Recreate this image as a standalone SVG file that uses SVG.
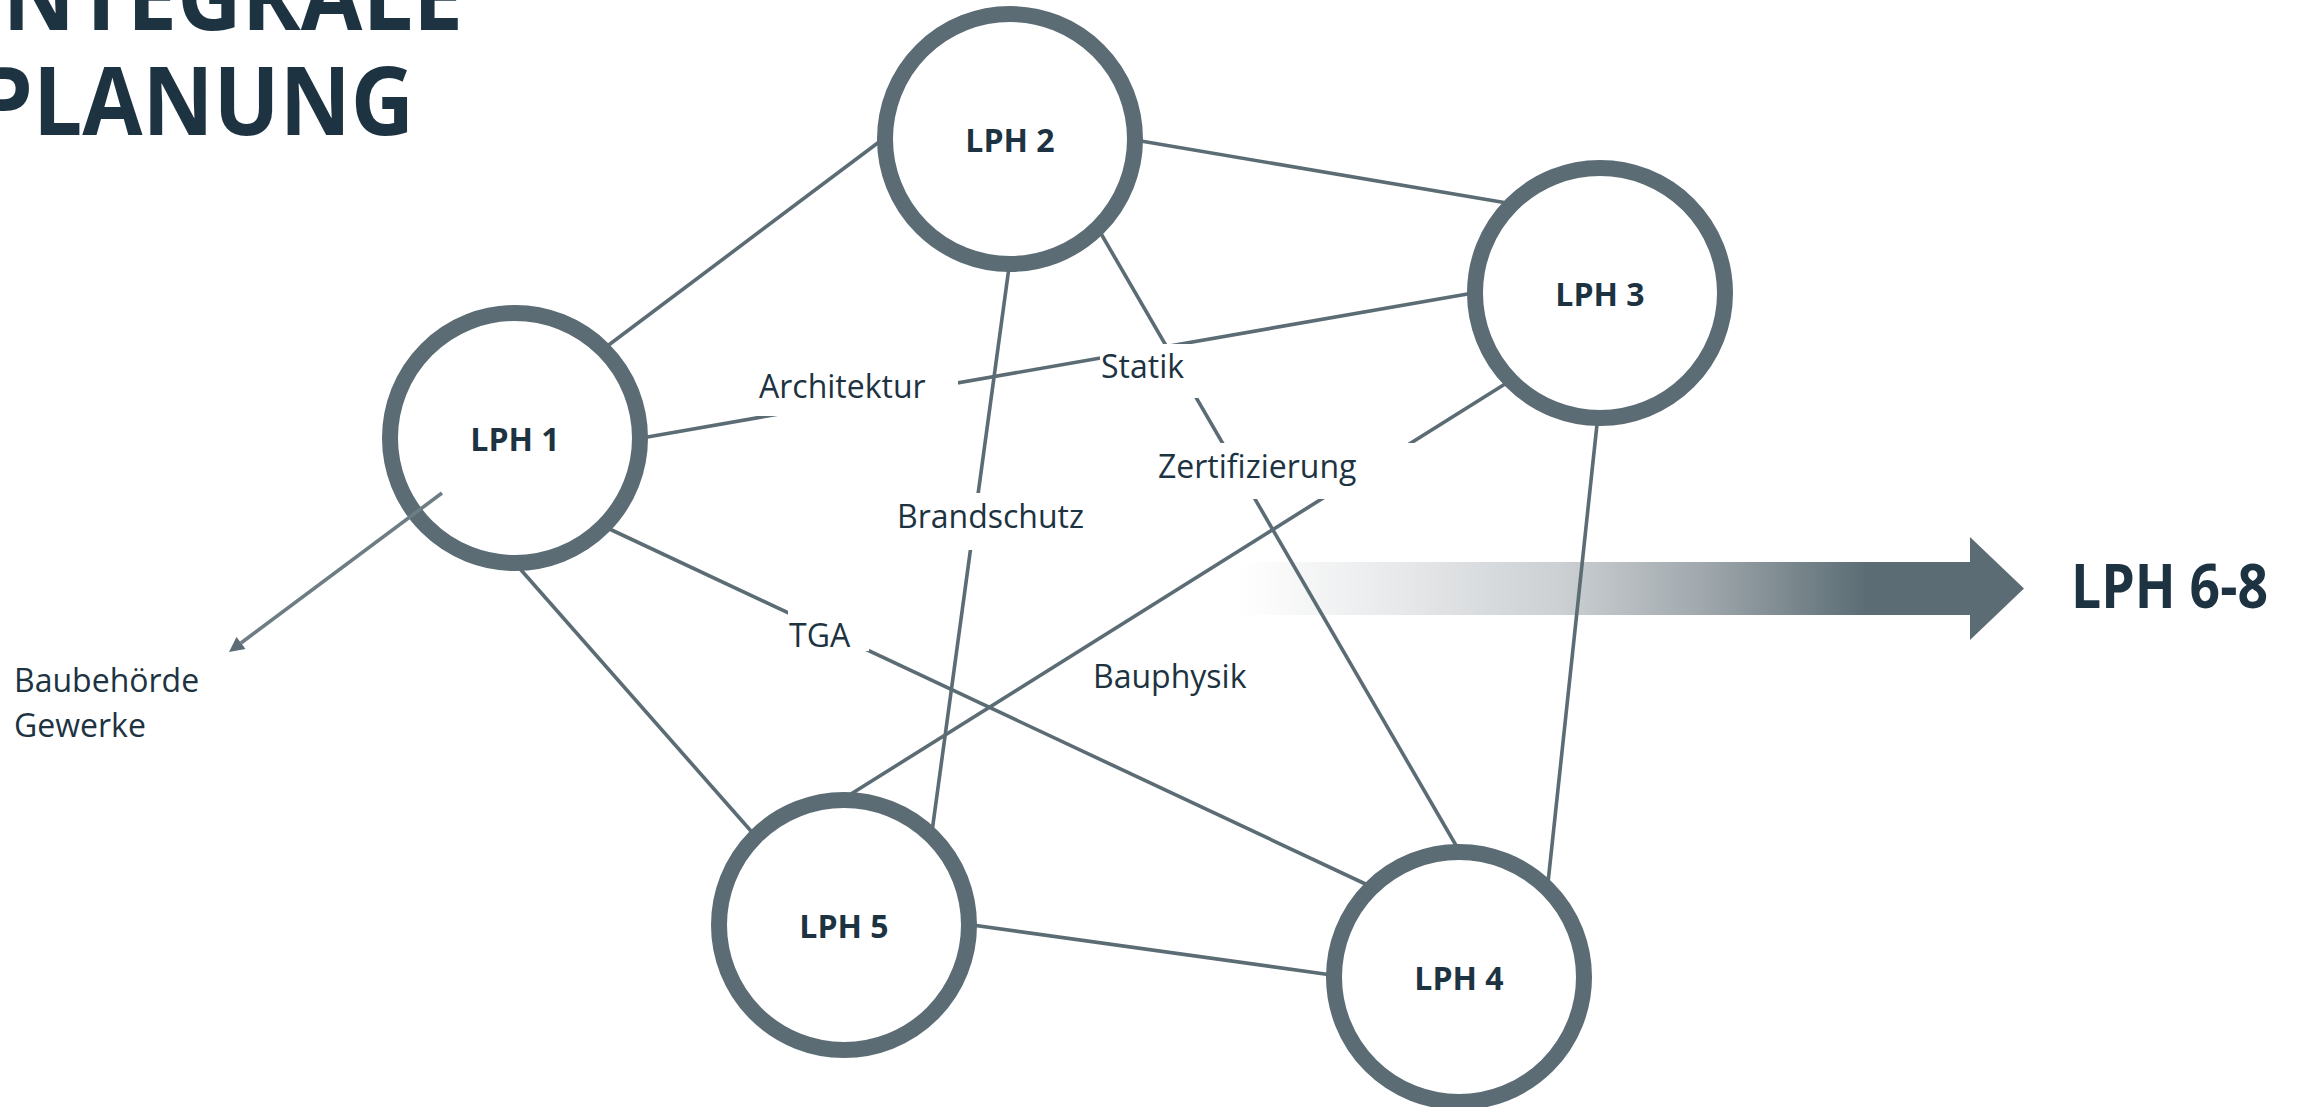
<svg xmlns="http://www.w3.org/2000/svg" width="2300" height="1107" viewBox="0 0 2300 1107">
  <style>
    .conn { stroke: #5b6c74; stroke-width: 3.6; fill: none; }
    .ring { fill: #ffffff; stroke: #5b6c74; stroke-width: 16; }
    .nlabel { font-family: "Open Sans", "Liberation Sans", sans-serif; font-weight: 700; font-size: 32px; fill: #1d3342; text-anchor: middle; }
    .elabel { font-family: "Open Sans", "Liberation Sans", sans-serif; font-size: 32px; fill: #1d3342; }
    .lbg { fill: #ffffff; }
    .title { font-family: "Open Sans", "Liberation Sans", sans-serif; font-weight: 700; font-size: 95px; fill: #1d3342; }
  </style>
  <defs>
    <linearGradient id="fadeArrow" gradientUnits="userSpaceOnUse" x1="1239" y1="0" x2="2024" y2="0">
      <stop offset="0" stop-color="#ffffff"/>
      <stop offset="0.15" stop-color="#eeeff0"/>
      <stop offset="0.41" stop-color="#ccd0d3"/>
      <stop offset="0.59" stop-color="#a0a8ad"/>
      <stop offset="0.71" stop-color="#78868c"/>
      <stop offset="0.8" stop-color="#5b6c74"/>
      <stop offset="1" stop-color="#5b6c74"/>
    </linearGradient>
    <marker id="arrowHead" markerUnits="userSpaceOnUse" markerWidth="17" markerHeight="15" viewBox="0 0 10 10" refX="0" refY="5" orient="auto">
      <path d="M0,0 L10,5 L0,10 z" fill="#5b6c74"/>
    </marker>
  </defs>

  <rect x="0" y="0" width="2300" height="1107" fill="#ffffff"/>

  <g id="title">
    <text class="title" x="-27" y="30" textLength="490" lengthAdjust="spacingAndGlyphs">INTEGRALE</text>
    <text class="title" x="-22" y="135" textLength="436" lengthAdjust="spacingAndGlyphs">PLANUNG</text>
  </g>

  <g id="phase-arrow">
    <polygon points="1239,562 1970,562 1970,537 2024,588.5 1970,640 1970,615 1239,615" fill="url(#fadeArrow)"/>
    <text x="2071" y="608" font-family="Open Sans, Liberation Sans, sans-serif" font-weight="700" font-size="60" fill="#1d3342" textLength="197" lengthAdjust="spacingAndGlyphs">LPH 6-8</text>
  </g>

  <g id="connectors">
    <line class="conn" x1="602" y1="350" x2="887" y2="136"/>
    <line class="conn" x1="636" y1="439" x2="1479" y2="292"/>
    <line class="conn" x1="601" y1="525" x2="1374" y2="888"/>
    <line class="conn" x1="514" y1="562" x2="758" y2="839"/>
    <line class="conn" x1="1129" y1="139" x2="1513" y2="204"/>
    <line class="conn" x1="1010" y1="260" x2="931" y2="839"/>
    <line class="conn" x1="1096" y1="225" x2="1461" y2="854"/>
    <line class="conn" x1="1598" y1="415" x2="1547" y2="892"/>
    <line class="conn" x1="1513" y1="379" x2="843" y2="799"/>
    <line class="conn" x1="965" y1="924" x2="1339" y2="976"/>
  </g>

  <g id="edge-labels">
    <g id="label-architektur">
      <rect class="lbg" x="750" y="356" width="208" height="60"/>
      <text class="elabel" x="759" y="398">Architektur</text>
    </g>
    <g id="label-statik">
      <rect class="lbg" x="1100" y="344" width="98" height="54"/>
      <text class="elabel" x="1101" y="378">Statik</text>
    </g>
    <g id="label-zertifizierung">
      <rect class="lbg" x="1150" y="443" width="265" height="56"/>
      <text class="elabel" x="1158" y="478">Zertifizierung</text>
    </g>
    <g id="label-brandschutz">
      <rect class="lbg" x="890" y="493" width="200" height="57"/>
      <text class="elabel" x="897" y="528">Brandschutz</text>
    </g>
    <g id="label-tga">
      <rect class="lbg" x="788" y="598" width="81" height="53"/>
      <text class="elabel" x="789" y="647">TGA</text>
    </g>
    <g id="label-bauphysik">
      <text class="elabel" x="1093" y="688">Bauphysik</text>
    </g>
  </g>

  <g id="node-lph1">
    <circle class="ring" cx="515" cy="438" r="125"/>
    <text class="nlabel" x="515" y="451">LPH 1</text>
  </g>
  <g id="node-lph2">
    <circle class="ring" cx="1010" cy="139" r="125"/>
    <text class="nlabel" x="1010" y="152">LPH 2</text>
  </g>
  <g id="node-lph3">
    <circle class="ring" cx="1600" cy="293" r="125"/>
    <text class="nlabel" x="1600" y="306">LPH 3</text>
  </g>
  <g id="node-lph4">
    <circle class="ring" cx="1459" cy="977" r="125"/>
    <text class="nlabel" x="1459" y="990">LPH 4</text>
  </g>
  <g id="node-lph5">
    <circle class="ring" cx="844" cy="925" r="125"/>
    <text class="nlabel" x="844" y="938">LPH 5</text>
  </g>

  <g id="external-connector">
    <line x1="442" y1="493" x2="241" y2="643" stroke="#6d7d84" stroke-width="3.6" marker-end="url(#arrowHead)"/>
  </g>
  <g id="node-external">
    <text class="elabel" x="14" y="692">Baubehörde</text>
    <text class="elabel" x="14" y="737">Gewerke</text>
  </g>
</svg>
